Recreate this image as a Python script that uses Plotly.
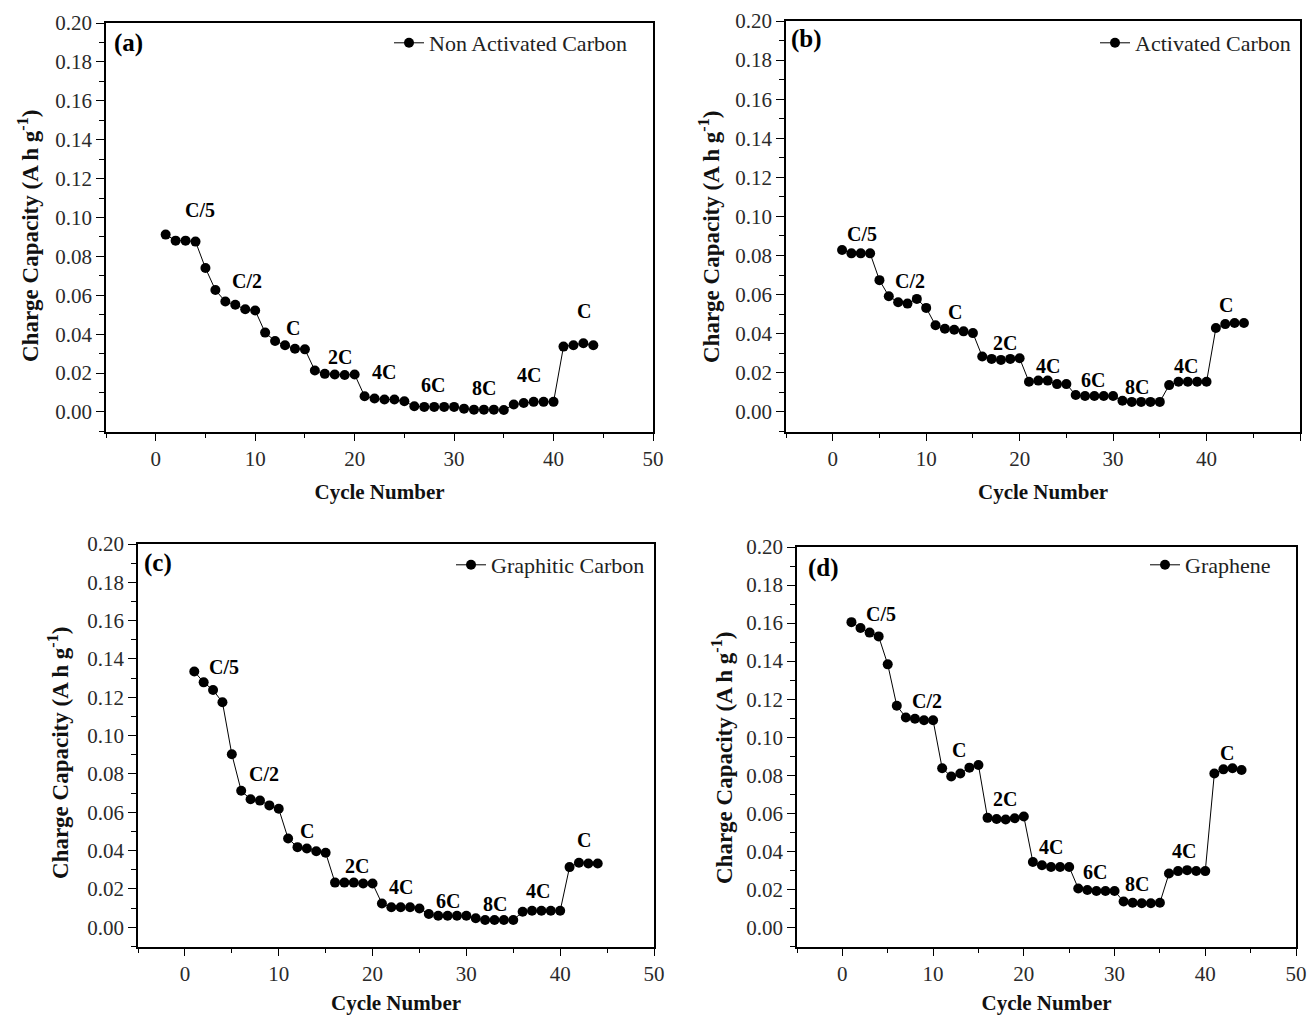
import plotly.graph_objects as go

# ---- data: charge capacity (A h g^-1) vs cycle number for four carbon electrodes ----
cycles = list(range(1, 45))

non_activated = [0.0912, 0.0881, 0.0881, 0.0876, 0.0740, 0.0627, 0.0568, 0.0551, 0.0528, 0.0522,
                 0.0408, 0.0365, 0.0343, 0.0325, 0.0322, 0.0213, 0.0196, 0.0193, 0.0190, 0.0193,
                 0.0081, 0.0069, 0.0064, 0.0064, 0.0055, 0.0029, 0.0026, 0.0026, 0.0026, 0.0026,
                 0.0017, 0.0012, 0.0012, 0.0012, 0.0010, 0.0038, 0.0046, 0.0052, 0.0052, 0.0052,
                 0.0336, 0.0343, 0.0353, 0.0343]

activated = [0.0828, 0.0811, 0.0811, 0.0811, 0.0674, 0.0592, 0.0561, 0.0554, 0.0578, 0.0532,
             0.0443, 0.0425, 0.0420, 0.0412, 0.0403, 0.0283, 0.0271, 0.0266, 0.0271, 0.0274,
             0.0154, 0.0160, 0.0160, 0.0142, 0.0142, 0.0086, 0.0081, 0.0081, 0.0081, 0.0081,
             0.0057, 0.0051, 0.0051, 0.0051, 0.0051, 0.0137, 0.0154, 0.0154, 0.0154, 0.0154,
             0.0429, 0.0449, 0.0455, 0.0455]

graphitic = [0.1335, 0.1278, 0.1238, 0.1174, 0.0903, 0.0712, 0.0668, 0.0661, 0.0636, 0.0618,
             0.0463, 0.0418, 0.0411, 0.0397, 0.0389, 0.0233, 0.0233, 0.0233, 0.0228, 0.0228,
             0.0124, 0.0104, 0.0104, 0.0104, 0.0098, 0.0069, 0.0060, 0.0060, 0.0060, 0.0060,
             0.0047, 0.0038, 0.0038, 0.0038, 0.0038, 0.0081, 0.0086, 0.0086, 0.0086, 0.0086,
             0.0314, 0.0337, 0.0333, 0.0333]

graphene = [0.1605, 0.1574, 0.1550, 0.1530, 0.1383, 0.1165, 0.1104, 0.1097, 0.1089, 0.1089,
            0.0837, 0.0793, 0.0809, 0.0840, 0.0854, 0.0576, 0.0570, 0.0567, 0.0574, 0.0583,
            0.0344, 0.0327, 0.0318, 0.0318, 0.0318, 0.0205, 0.0197, 0.0191, 0.0191, 0.0191,
            0.0136, 0.0130, 0.0127, 0.0127, 0.0130, 0.0283, 0.0296, 0.0301, 0.0297, 0.0296,
            0.0809, 0.0831, 0.0837, 0.0828]

series_names = ["Non Activated Carbon", "Activated Carbon", "Graphitic Carbon", "Graphene"]
series_values = [non_activated, activated, graphitic, graphene]
panel_letters = ["(a)", "(b)", "(c)", "(d)"]

rate_labels = ["C/5", "C/2", "C", "2C", "4C", "6C", "8C", "4C", "C"]

y_ticks = [0.00, 0.02, 0.04, 0.06, 0.08, 0.10, 0.12, 0.14, 0.16, 0.18, 0.20]
x_ticks = [0, 10, 20, 30, 40, 50]

y_title = "<b>Charge Capacity (A h g<sup>-1</sup>)</b>"
x_title = "<b>Cycle Number</b>"

# ---- layout constants (pixels of the 1309 x 1015 page) ----
W, H = 1309, 1015
SERIF = "Liberation Serif, Times New Roman, serif"

# plot-area boxes: left, right, top, bottom
boxes = [(106, 653, 23, 432), (786, 1300, 21, 432), (138, 654, 544, 947), (797, 1296, 547, 947)]

# where each rate label sits, in data units of its own panel
rate_label_pos = [
    [(4.5, 0.1036), (9.2, 0.0675), (13.8, 0.0434), (18.5, 0.0282), (23.0, 0.0207),
     (27.9, 0.0138), (33.0, 0.0124), (37.5, 0.0189), (43.1, 0.0520)],
    [(3.1, 0.0909), (8.3, 0.0669), (13.1, 0.0509), (18.4, 0.0352), (23.0, 0.0237),
     (27.9, 0.0163), (32.6, 0.0129), (37.8, 0.0237), (42.1, 0.0549)],
    [(4.2, 0.1356), (8.4, 0.0798), (13.0, 0.0501), (18.3, 0.0320), (23.0, 0.0212),
     (28.0, 0.0138), (33.1, 0.0124), (37.6, 0.0190), (42.5, 0.0453)],
    [(4.3, 0.1649), (9.3, 0.1193), (12.9, 0.0932), (17.9, 0.0675), (23.0, 0.0423),
     (27.9, 0.0292), (32.5, 0.0226), (37.7, 0.0400), (42.4, 0.0918)],
]

# legend right edge / vertical centre, panel-letter left edge / centre,
# and y-title centre (pixels)
legend_px = [(632, 43), (1296, 43), (650, 565), (1276, 565)]
letter_px = [(112, 43), (789, 39), (142, 563), (806, 568)]
ytitle_px = [(28, 236), (710, 237), (58, 753), (722, 758)]

Y_RANGE = [-0.0103, 0.20]
X_RANGE = [-5, 50]

fig = go.Figure()
annotations = []
layout_axes = {}

for i, (name, vals) in enumerate(zip(series_names, series_values)):
    k = i + 1
    sfx = "" if k == 1 else str(k)
    xa, ya = "x" + sfx, "y" + sfx
    leg = "legend" if k == 1 else "legend" + str(k)

    fig.add_trace(go.Scatter(
        x=cycles, y=vals, name=name, mode="lines+markers",
        xaxis=xa, yaxis=ya, legend=leg,
        line=dict(color="black", width=1),
        marker=dict(color="black", size=10, symbol="circle"),
        showlegend=True,
    ))

    left, right, top, bottom = boxes[i]
    xdom = [left / W, right / W]
    ydom = [1 - bottom / H, 1 - top / H]

    axis_common = dict(
        showline=True, linecolor="black", linewidth=1.6, mirror=True,
        ticks="outside", tickcolor="black", showgrid=False, zeroline=False,
        automargin=False,
        tickfont=dict(family=SERIF, size=21, color="#2a2a2a"),
    )
    layout_axes["xaxis" + sfx] = dict(
        axis_common, domain=xdom, anchor=ya, range=X_RANGE,
        tickmode="array", tickvals=x_ticks, ticklen=7, tickwidth=1.3,
        minor=dict(dtick=5, tick0=0, ticklen=4, tickwidth=1.2, tickcolor="black", ticks="outside"),
        title=dict(text=x_title, standoff=14,
                   font=dict(family=SERIF, size=21, color="#111")),
    )
    layout_axes["yaxis" + sfx] = dict(
        axis_common, domain=ydom, anchor=xa, range=Y_RANGE,
        tickmode="array", tickvals=y_ticks, tickformat=".2f", ticklen=8, tickwidth=1.3,
        minor=dict(dtick=0.01, tick0=0, ticklen=5, tickwidth=1.2, tickcolor="black", ticks="outside"),
    )

    lx, ly = legend_px[i]
    layout_axes[leg] = dict(
        x=lx / W, y=1 - ly / H, xanchor="right", yanchor="middle",
        xref="paper", yref="paper", bgcolor="rgba(0,0,0,0)", borderwidth=0,
        font=dict(family=SERIF, size=22, color="#222"),
        itemwidth=30,
    )

    # vertical axis title
    tx_, ty_ = ytitle_px[i]
    annotations.append(dict(
        x=tx_ / W, y=1 - ty_ / H, xref="paper", yref="paper",
        xanchor="center", yanchor="middle", showarrow=False, textangle=-90,
        text=y_title, font=dict(family=SERIF, size=23, color="#111"),
    ))

    px_, py_ = letter_px[i]
    annotations.append(dict(
        x=px_ / W, y=1 - py_ / H, xref="paper", yref="paper",
        xanchor="left", yanchor="middle", showarrow=False,
        text="<b>" + panel_letters[i] + "</b>",
        font=dict(family=SERIF, size=25, color="black"),
    ))

    for lab, (tx, ty) in zip(rate_labels, rate_label_pos[i]):
        annotations.append(dict(
            x=tx, y=ty, xref=xa, yref=ya, showarrow=False,
            xanchor="center", yanchor="middle", text="<b>" + lab + "</b>",
            font=dict(family=SERIF, size=20, color="black"),
        ))

fig.update_layout(
    width=W, height=H,
    margin=dict(l=0, r=0, t=0, b=0, autoexpand=False),
    paper_bgcolor="white", plot_bgcolor="white",
    annotations=annotations,
    **layout_axes,
)

fig.write_html("out.html")
